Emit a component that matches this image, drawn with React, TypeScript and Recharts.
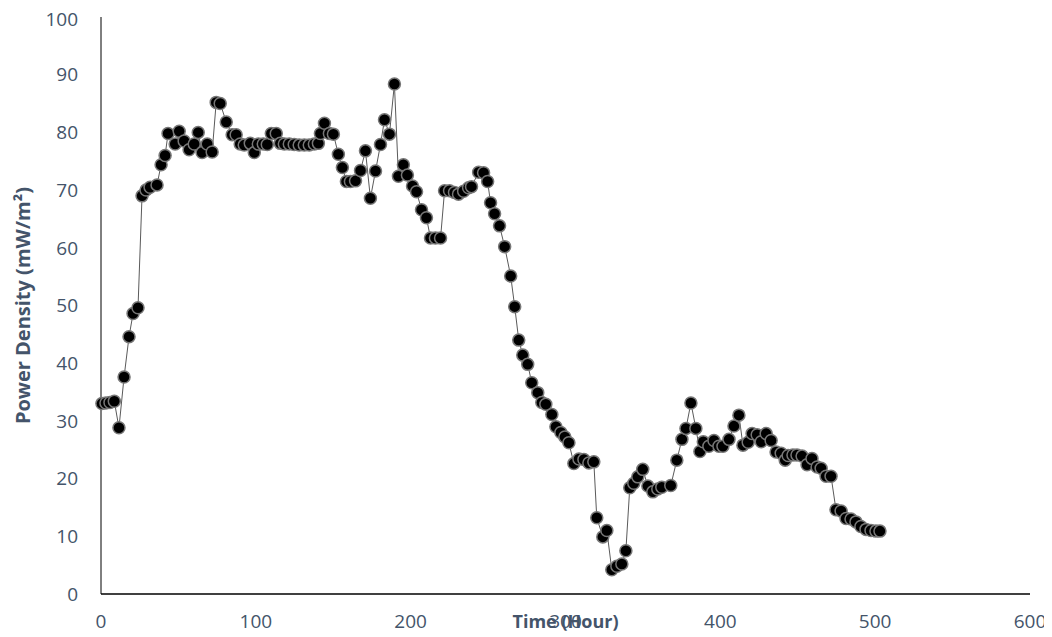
import React from 'react';
import { LineChart, Line, XAxis, YAxis } from 'recharts';

// time (hour) of each reading
const hours = [
  0.6, 3.2, 5.8, 8.6, 11.6, 14.9, 18.1, 20.7, 23.9, 26.5,
  29.1, 31.7, 36.2, 38.8, 41.4, 43.3, 47.9, 50.5, 53.7, 56.9,
  60.2, 62.8, 65.3, 68.6, 71.8, 74.4, 77.0, 80.9, 84.7, 87.3,
  89.9, 92.5, 96.4, 99.0, 101.6, 104.8, 107.4, 110.0, 113.2, 115.8,
  118.4, 121.6, 124.8, 128.0, 131.3, 134.5, 137.8, 140.4, 141.7, 144.3,
  147.5, 150.1, 153.3, 155.9, 158.5, 161.1, 164.4, 167.6, 170.8, 174.0,
  177.3, 180.5, 183.1, 186.3, 189.5, 192.1, 195.3, 197.9, 201.2, 203.8,
  207.0, 210.2, 212.8, 216.0, 219.3, 221.9, 225.1, 228.3, 230.9, 234.2,
  237.4, 239.3, 243.9, 247.1, 249.7, 251.6, 254.2, 257.4, 260.7, 264.6,
  267.2, 269.8, 272.4, 275.6, 278.2, 282.1, 284.7, 287.3, 291.2, 293.8,
  297.0, 299.6, 302.2, 305.4, 308.7, 311.9, 315.1, 318.3, 320.2, 324.1,
  326.7, 329.9, 333.2, 336.4, 339.0, 341.5, 344.1, 346.7, 349.9, 353.2,
  356.4, 359.6, 362.2, 368.0, 371.9, 375.2, 377.8, 381.0, 384.2, 386.8,
  389.0, 392.6, 395.9, 399.1, 401.7, 405.6, 408.8, 412.0, 414.6, 418.0,
  420.5, 423.8, 426.4, 429.6, 432.8, 436.0, 439.3, 441.9, 443.8, 446.9,
  449.5, 452.8, 456.0, 459.2, 462.5, 465.1, 468.3, 471.5, 474.7, 478.0,
  481.2, 484.4, 487.6, 490.8, 494.1, 497.3, 500.5, 503.1,
];

// power density (mW/m2)
const power = [
  33.0, 33.1, 33.2, 33.4, 28.8, 37.6, 44.6, 48.6, 49.6, 69.0,
  70.0, 70.5, 70.9, 74.4, 76.0, 79.8, 78.0, 80.2, 78.5, 77.0,
  78.0, 80.0, 76.5, 78.0, 76.6, 85.2, 85.0, 81.8, 79.6, 79.6,
  78.0, 77.8, 78.1, 76.5, 78.0, 78.0, 77.9, 79.8, 79.8, 78.1,
  78.0, 78.0, 77.9, 77.8, 77.8, 77.8, 78.0, 78.1, 79.8, 81.6,
  79.8, 79.7, 76.2, 73.9, 71.5, 71.5, 71.6, 73.4, 76.8, 68.6,
  73.3, 77.9, 82.2, 79.7, 88.4, 72.4, 74.4, 72.6, 70.7, 69.7,
  66.6, 65.2, 61.7, 61.7, 61.7, 69.9, 69.9, 69.6, 69.3, 69.8,
  70.4, 70.6, 73.1, 73.0, 71.5, 67.8, 65.9, 63.8, 60.2, 55.1,
  49.8, 44.0, 41.4, 39.8, 36.6, 34.9, 33.2, 32.9, 31.1, 29.0,
  28.0, 27.2, 26.2, 22.6, 23.4, 23.3, 22.7, 22.9, 13.2, 9.9,
  11.0, 4.2, 4.8, 5.2, 7.5, 18.4, 19.2, 20.3, 21.6, 18.7,
  17.7, 18.2, 18.5, 18.8, 23.2, 26.8, 28.7, 33.1, 28.7, 24.7,
  26.4, 25.6, 26.6, 25.6, 25.6, 26.8, 29.1, 31.0, 25.8, 26.3,
  27.8, 27.6, 26.4, 27.8, 26.6, 24.6, 24.4, 23.2, 24.0, 24.1,
  24.1, 23.9, 22.4, 23.5, 22.0, 21.8, 20.4, 20.4, 14.6, 14.4,
  13.1, 13.0, 12.5, 11.7, 11.2, 11.0, 10.9, 10.9,
];

const xTicks = [0, 100, 200, 300, 400, 500, 600];
const yTicks = [0, 10, 20, 30, 40, 50, 60, 70, 80, 90, 100];

const data = hours.map((h, i) => ({ hour: h, power: power[i] }));

const tickStyle = { fill: '#44546A', fontSize: 19, fontFamily: 'Open Sans' };

export default function App() {
  return (
    <div style={{ fontFamily: 'Open Sans' }}>
      <LineChart
        width={1044}
        height={629}
        data={data}
        margin={{ top: 9, right: 22, bottom: 0, left: 0 }}
      >
        <XAxis
          type="number"
          dataKey="hour"
          domain={[0, 600]}
          ticks={xTicks}
          tickLine={false}
          tickSize={0}
          tickMargin={21}
          height={43}
          tick={tickStyle}
          axisLine={{ stroke: '#000', strokeWidth: 1.5 }}
          label={{
            value: 'Time (Hour)',
            position: 'insideTop',
            offset: 21,
            style: { fill: '#44546A', fontSize: 18, fontWeight: 700, fontFamily: 'Open Sans' },
          }}
        />
        <YAxis
          type="number"
          domain={[0, 100]}
          ticks={yTicks}
          tickLine={false}
          tickSize={0}
          tickMargin={23}
          width={93}
          tick={tickStyle}
          axisLine={{ stroke: '#000', strokeWidth: 1 }}
          label={{
            value: 'Power Density (mW/m²)',
            angle: -90,
            position: 'insideLeft',
            offset: 15,
            style: { textAnchor: 'middle', fill: '#44546A', fontSize: 20, fontWeight: 700, fontFamily: 'Open Sans' },
          }}
        />
        <Line
          type="linear"
          dataKey="power"
          stroke="#5a5a5a"
          strokeWidth={1}
          dot={{ r: 6, fill: '#000', stroke: '#777', strokeWidth: 1.5 }}
          activeDot={false}
          isAnimationActive={false}
        />
      </LineChart>
    </div>
  );
}
